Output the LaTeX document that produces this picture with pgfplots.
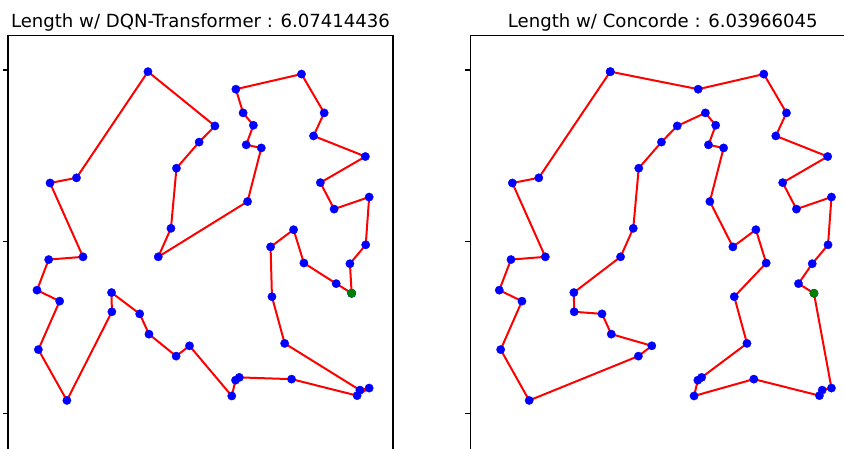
\documentclass[border=0pt]{standalone}
\usepackage{fontspec}
\setmainfont{DejaVu Sans}
\usepackage{pgfplots}
\pgfplotsset{compat=1.18}
\definecolor{mplred}{RGB}{255,0,0}
\definecolor{mplblue}{RGB}{0,0,255}
\definecolor{mplgreen}{RGB}{0,128,0}
\pgfplotsset{
  tspaxis/.style={
    scale only axis,
    width=385pt, height=419.1pt,
    xmin=-0.0604, xmax=1.0604, ymin=-0.12, ymax=1.1,
    xtick={0,0.5,1}, ytick={0,0.5,1},
    xticklabels={}, yticklabels={},
    xtick pos=bottom, ytick pos=left,
    tick align=outside,
    major tick length=4.9pt,
    every tick/.style={black, line width=1.1pt},
    axis line style={black, line width=1.1pt},
    every axis title/.style={at={(0.5,1)}, anchor=base, yshift=8.4pt,
      font=\fontsize{18.1pt}{22pt}\selectfont},
  },
  tour/.style={mplred, line width=2pt, line join=round,
    mark=*, mark size=4.2pt,
    mark options={fill=mplblue, draw=mplblue, line width=0.3pt, solid}},
}
\begin{document}
\begin{tikzpicture}
\useasboundingbox (0pt,0pt) rectangle (844pt,-448pt);
\clip (0pt,0pt) rectangle (844pt,-448pt);
\begin{axis}[tspaxis, at={(8pt,-35.6pt)}, anchor=north west,
  title={Length w/ DQN-Transformer : 6.07414436}]
\addplot[tour] coordinates {
(0.940,0.350) (0.935,0.436) (0.981,0.491) (0.991,0.630) (0.889,0.595)
(0.849,0.672) (0.980,0.748) (0.829,0.808) (0.860,0.875) (0.794,0.988)
(0.603,0.944) (0.624,0.875) (0.654,0.839) (0.633,0.782) (0.677,0.773)
(0.637,0.617) (0.377,0.456) (0.414,0.539) (0.430,0.714) (0.496,0.790)
(0.542,0.837) (0.347,0.995) (0.139,0.686) (0.062,0.671) (0.158,0.456)
(0.058,0.448) (0.024,0.359) (0.090,0.327) (0.028,0.186) (0.111,0.038)
(0.242,0.296) (0.241,0.352) (0.323,0.290) (0.350,0.231) (0.429,0.167)
(0.468,0.197) (0.591,0.051) (0.602,0.097) (0.613,0.105) (0.765,0.100)
(0.956,0.052) (0.991,0.074) (0.964,0.068) (0.745,0.204) (0.708,0.340)
(0.704,0.485) (0.771,0.535) (0.801,0.438) (0.895,0.378) (0.940,0.350)
};
\addplot[only marks, mark=*, mark size=4.2pt,
  mark options={fill=mplgreen, draw=mplgreen, line width=0.3pt}]
  coordinates {(0.940,0.350)};
\end{axis}
\begin{axis}[tspaxis, at={(470.3pt,-35.6pt)}, anchor=north west,
  title={Length w/ Concorde : 6.03966045}]
\addplot[tour] coordinates {
(0.347,0.995) (0.603,0.944) (0.794,0.988) (0.860,0.875) (0.829,0.808)
(0.980,0.748) (0.849,0.672) (0.889,0.595) (0.991,0.630) (0.981,0.491)
(0.935,0.436) (0.895,0.378) (0.940,0.350) (0.991,0.074) (0.964,0.068)
(0.956,0.052) (0.765,0.100) (0.591,0.051) (0.602,0.097) (0.613,0.105)
(0.745,0.204) (0.708,0.340) (0.801,0.438) (0.771,0.535) (0.704,0.485)
(0.637,0.617) (0.677,0.773) (0.633,0.782) (0.654,0.839) (0.624,0.875)
(0.542,0.837) (0.496,0.790) (0.430,0.714) (0.414,0.539) (0.377,0.456)
(0.241,0.352) (0.242,0.296) (0.323,0.290) (0.350,0.231) (0.468,0.197)
(0.429,0.167) (0.111,0.038) (0.028,0.186) (0.090,0.327) (0.024,0.359)
(0.058,0.448) (0.158,0.456) (0.062,0.671) (0.139,0.686) (0.347,0.995)
};
\addplot[only marks, mark=*, mark size=4.2pt,
  mark options={fill=mplgreen, draw=mplgreen, line width=0.3pt}]
  coordinates {(0.940,0.350)};
\end{axis}
\end{tikzpicture}
\end{document}
